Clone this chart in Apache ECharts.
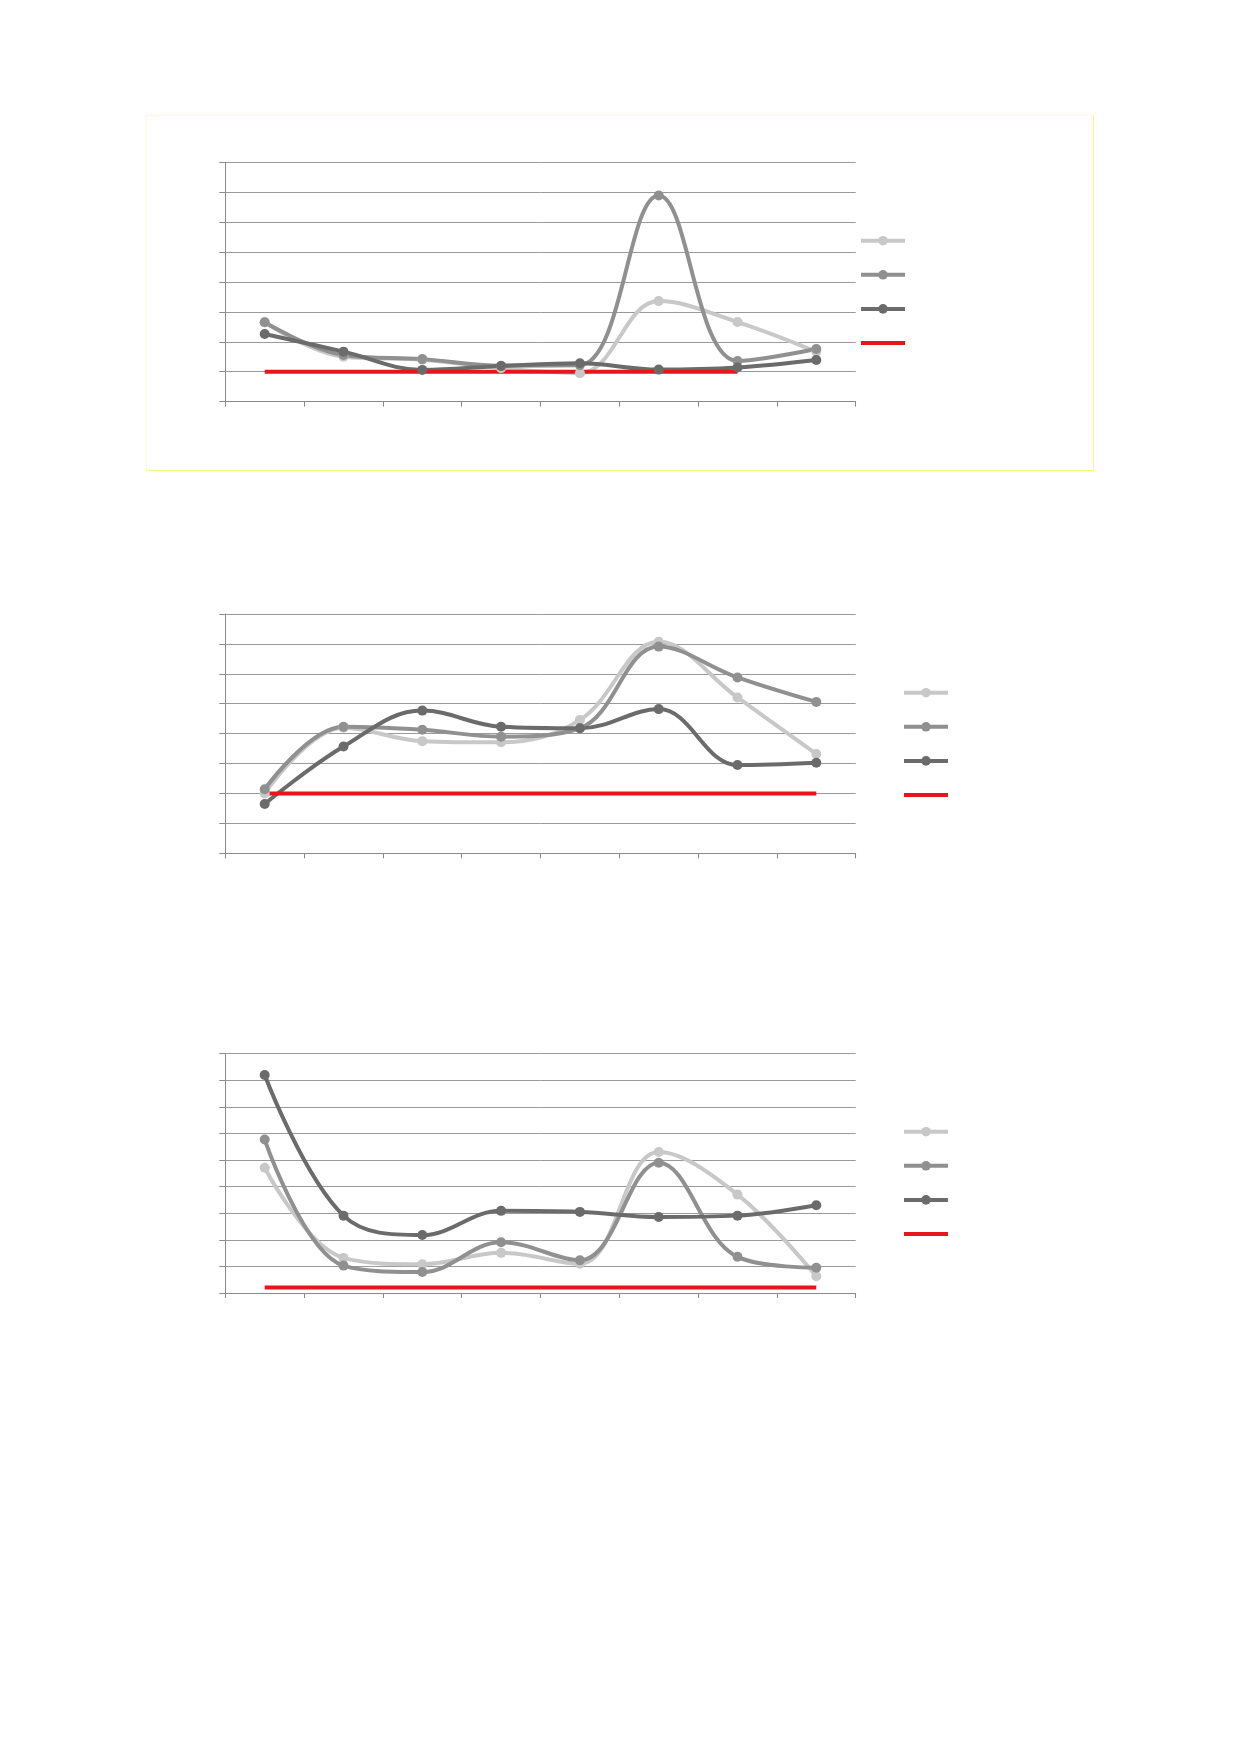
<!DOCTYPE html>
<html lang="en">

<head>
  <meta charset="UTF-8">
  <title>Charts</title>
  <script src="https://cdn.jsdelivr.net/npm/echarts@6.0.0/dist/echarts.min.js"></script>
  <style>
    body { margin: 0; background: #fff; }
    #main { width: 1240px; height: 1754px; }
  </style>
</head>

<body>
  <div id="main"></div>
  <script type="text/javascript">
    var myChart = echarts.init(document.getElementById('main'));

    // categories (labels are not shown in the picture)
    var categories = ['1', '2', '3', '4', '5', '6', '7', '8'];

    // chart 1
    var chart1Light = [2.65, 1.50, 1.40, 1.12, 0.95, 3.36, 2.66, 1.67];
    var chart1Mid = [2.65, 1.56, 1.42, 1.20, 1.22, 6.89, 1.36, 1.76];
    var chart1Dark = [2.26, 1.67, 1.06, 1.19, 1.28, 1.07, 1.14, 1.39];
    var chart1Ref = [1, 1, 1, 1, 1, 1, 1, null];

    // chart 2
    var chart2Light = [2.00, 4.20, 3.75, 3.71, 4.46, 7.07, 5.21, 3.32];
    var chart2Mid = [2.14, 4.23, 4.13, 3.90, 4.18, 6.91, 5.88, 5.06];
    var chart2Dark = [1.65, 3.57, 4.77, 4.23, 4.18, 4.82, 2.95, 3.03];
    var chart2Ref = [2, 2, 2, 2, 2, 2, 2, 2];

    // chart 3
    var chart3Light = [4.71, 1.32, 1.08, 1.51, 1.10, 5.30, 3.70, 0.63];
    var chart3Mid = [5.77, 1.03, 0.79, 1.91, 1.23, 4.90, 1.36, 0.95];
    var chart3Dark = [8.20, 2.91, 2.18, 3.09, 3.05, 2.86, 2.91, 3.30];
    var chart3Ref = [0.21, 0.21, 0.21, 0.21, 0.21, 0.21, 0.21, 0.21];

    var yMax = [8, 8, 9];

    var colors = ['#c8c8c8', '#909090', '#6b6b6b', '#e8161b'];
    var gridTops = [162.3, 614, 1053.7];
    var legendLefts = [859, 902, 902];
    var legendTops = [234.7, 686.7, 1125.7];

    var all = [
      [chart1Light, chart1Mid, chart1Dark, chart1Ref],
      [chart2Light, chart2Mid, chart2Dark, chart2Ref],
      [chart3Light, chart3Mid, chart3Dark, chart3Ref]
    ];

    var grid = [], xAxis = [], yAxis = [], legend = [], series = [];

    for (var i = 0; i < 3; i++) {
      grid.push({ left: 225.3, top: gridTops[i], width: 630.4, height: 239.3 });
      xAxis.push({
        type: 'category',
        gridIndex: i,
        data: categories,
        boundaryGap: true,
        axisLine: { lineStyle: { color: '#8a8a8a', width: 1 } },
        axisTick: { show: true, length: 5, lineStyle: { color: '#8a8a8a' } },
        axisLabel: { show: false }
      });
      yAxis.push({
        type: 'value',
        gridIndex: i,
        min: 0,
        max: yMax[i],
        interval: 1,
        axisLine: { show: true, lineStyle: { color: '#8a8a8a', width: 1 } },
        axisTick: { show: true, length: 6, lineStyle: { color: '#8a8a8a' } },
        axisLabel: { show: false },
        splitLine: { lineStyle: { color: '#9a9a9a', width: 1 } }
      });

      var legendData = [];
      for (var j = 0; j < 4; j++) {
        var name = 's' + (i + 1) + '_' + (j + 1);
        var isRef = j === 3;
        // the red reference line has no marker in the legend
        legendData.push(isRef ? { name: name, icon: 'path://M0,0H44V4H0Z' } : name);
        series.push({
          name: name,
          type: 'line',
          xAxisIndex: i,
          yAxisIndex: i,
          data: all[i][j],
          smooth: isRef ? false : 0.38,
          symbol: isRef ? 'none' : 'circle',
          symbolSize: 10,
          color: colors[j],
          lineStyle: { width: 4, color: colors[j] },
          itemStyle: { color: colors[j] },
          emphasis: { disabled: true },
          animation: false
        });
      }

      legend.push({
        orient: 'vertical',
        left: legendLefts[i],
        top: legendTops[i],
        padding: 0,
        itemWidth: 44,
        itemHeight: 12,
        itemGap: 23.3,
        lineStyle: { width: 4 },
        data: legendData,
        formatter: function () { return ''; },
        selectedMode: false
      });
    }

    var option = {
      backgroundColor: '#fff',
      animation: false,
      // yellow frame round the first chart: faint top/left, stronger bottom/right
      graphic: [{
        type: 'rect',
        shape: { x: 146.5, y: 115.5, width: 947, height: 355 },
        style: { fill: 'none', stroke: '#fbfbd8', lineWidth: 1 },
        z: -1
      }, {
        type: 'polyline',
        shape: { points: [[1093.5, 115.5], [1093.5, 470.5], [146.5, 470.5]] },
        style: { fill: 'none', stroke: '#f6f680', lineWidth: 1 },
        z: -1
      }],
      grid: grid,
      xAxis: xAxis,
      yAxis: yAxis,
      legend: legend,
      series: series
    };

    myChart.setOption(option);
  </script>
</body>

</html>
